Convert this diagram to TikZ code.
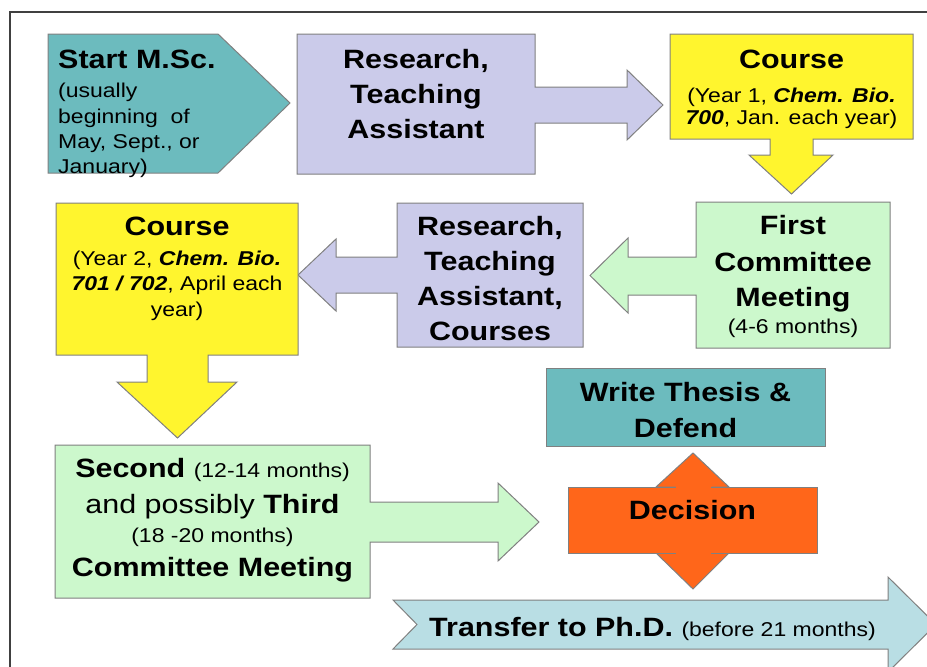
\documentclass[tikz,border=0pt]{standalone}
\usepackage{fontspec}
\setmainfont{Liberation Sans}[FakeStretch=1.15]
\newcommand\Bfont{\fontsize{26.5}{30}\selectfont\bfseries}
\newcommand\Sfont{\fontsize{20}{24}\selectfont\mdseries}
\newcommand\Rfont{\fontsize{26.5}{30}\selectfont\mdseries}
\definecolor{teal1}{HTML}{6CBBBE}
\definecolor{lav}{HTML}{CBCBEA}
\definecolor{yel}{HTML}{FFF52E}
\definecolor{lgreen}{HTML}{CCF8CC}
\definecolor{orng}{HTML}{FF661A}
\definecolor{lblue}{HTML}{B9DEE4}
\definecolor{edge}{HTML}{808080}
\begin{document}
\begin{tikzpicture}[x=1pt,y=-1pt,
  shp/.style={draw=edge,line width=1pt,line join=miter},
  tl/.style={inner sep=0pt,anchor=base,font=\Bfont},
  tlw/.style={inner sep=0pt,anchor=base west,font=\Bfont},
  sl/.style={inner sep=0pt,anchor=base,font=\Sfont},
  slw/.style={inner sep=0pt,anchor=base west,font=\Sfont}]
\useasboundingbox (0,0) rectangle (927,667);
\clip (0,0) rectangle (927,667);
\fill[white] (0,0) rectangle (927,667);
% frame
\draw[line width=2pt,color=black!75] (10,668) -- (10,12) -- (928,12);
% Start M.Sc.
\filldraw[shp,fill=teal1] (48,34) -- (218,34) -- (290,103) -- (218,173) -- (48,173) -- cycle;
\node[tlw] (a1) at (58,68) {Start M.Sc.};
\node[slw] (a2) at (58,97) {(usually};
\node[slw] (a3) at (58,123) {beginning\ \ of};
\node[slw] (a4) at (58,148) {May, Sept., or};
\node[slw] (a5) at (58,173) {January)};
% Research, Teaching Assistant
\filldraw[shp,fill=lav] (297,34) -- (535,34) -- (535,87) -- (627,87) -- (627,70) -- (663,105) -- (627,140) -- (627,123) -- (535,123) -- (535,174) -- (297,174) -- cycle;
\node[tl] (b1) at (416,68) {Research,};
\node[tl] (b2) at (416,103) {Teaching};
\node[tl] (b3) at (416,138) {Assistant};
% Course year 1
\filldraw[shp,fill=yel] (670,34) -- (913,34) -- (913,139) -- (813,139) -- (813,155) -- (833,155) -- (791.5,194) -- (749,155) -- (770,155) -- (770,139) -- (670,139) -- cycle;
\node[tl] (c1) at (791.5,68) {Course};
\node[sl] (c2) at (791.5,102) {(Year 1, \textbf{\textit{Chem. Bio.}}};
\node[sl] (c3) at (791.5,124) {\textbf{\textit{700}}, Jan. each year)};
% First committee meeting
\filldraw[shp,fill=lgreen] (696,202) -- (890,202) -- (890,348) -- (696,348) -- (696,295) -- (628,295) -- (628,313) -- (590,275.5) -- (628,238) -- (628,257) -- (696,257) -- cycle;
\node[tl] (d1) at (793,234) {First};
\node[tl] (d2) at (793,271) {Committee};
\node[tl] (d3) at (793,306) {Meeting};
\node[sl] (d4) at (793,333) {(4-6 months)};
% Research, Teaching Assistant, Courses
\filldraw[shp,fill=lav] (397,203) -- (583,203) -- (583,347) -- (397,347) -- (397,293) -- (336,293) -- (336,311) -- (298,275) -- (336,239) -- (336,257) -- (397,257) -- cycle;
\node[tl] (e1) at (490,235) {Research,};
\node[tl] (e2) at (490,270) {Teaching};
\node[tl] (e3) at (490,305) {Assistant,};
\node[tl] (e4) at (490,340) {Courses};
% Course year 2
\filldraw[shp,fill=yel] (56,203) -- (298,203) -- (298,355) -- (208,355) -- (208,382) -- (237,382) -- (177.5,438) -- (117,382) -- (147,382) -- (147,355) -- (56,355) -- cycle;
\node[tl] (f1) at (177,235) {Course};
\node[sl] (f2) at (177,265) {(Year 2, \textbf{\textit{Chem. Bio.}}};
\node[sl] (f3) at (177,290) {\textbf{\textit{701 / 702}}, April each};
\node[sl] (f4) at (177,316) {year)};
% Second committee meeting
\filldraw[shp,fill=lgreen] (55,445) -- (370,445) -- (370,502) -- (498,502) -- (498,483) -- (539,522) -- (498,561) -- (498,542) -- (370,542) -- (370,598) -- (55,598) -- cycle;
\node[tl] (g1) at (212.5,477) {Second {\Sfont(12-14 months)}};
\node[tl] (g2) at (212.5,513) {{\Rfont and possibly} Third};
\node[sl] (g3) at (212.5,542) {(18 -20 months)};
\node[tl] (g4) at (212.5,576) {Committee Meeting};
% Write thesis
\filldraw[shp,fill=teal1] (546,368) rectangle (825,446);
\node[tl] (h1) at (685.5,401) {Write Thesis \&};
\node[tl] (h2) at (685.5,437) {Defend};
% Decision double arrow and box
\filldraw[shp,fill=orng] (693,453) -- (729,487) -- (712,487) -- (712,553) -- (729,553) -- (693,589) -- (656,553) -- (675,553) -- (675,487) -- (656,487) -- cycle;
\filldraw[shp,fill=orng] (568,487) rectangle (817,553);
\fill[orng] (675.6,485) rectangle (711.4,555);
\node[tl] (i1) at (692.5,519) {Decision};
% Transfer to PhD
\filldraw[shp,fill=lblue] (393,600) -- (888,600) -- (888,577) -- (936,624.5) -- (888,672) -- (888,649) -- (393,649) -- (417,624.5) -- cycle;
\node[tlw] (j1) at (429,636) {Transfer to Ph.D. {\Sfont(before 21 months)}};
\end{tikzpicture}
\end{document}
